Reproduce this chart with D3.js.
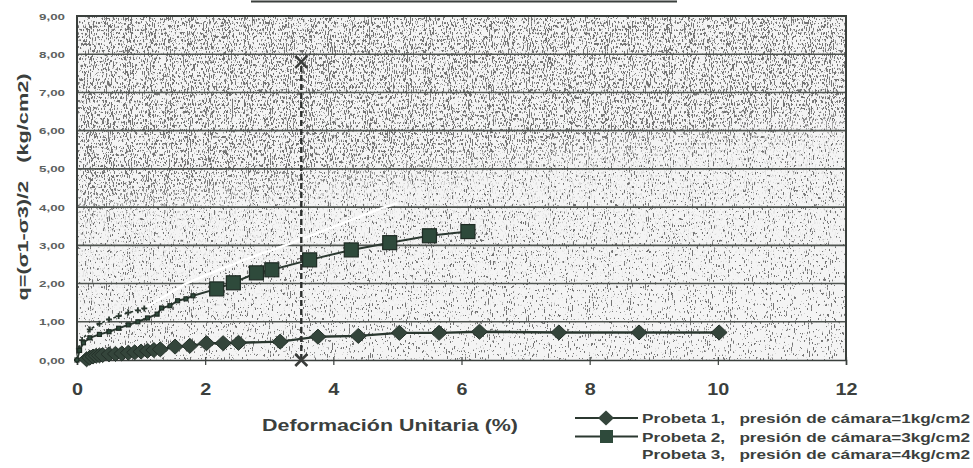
<!DOCTYPE html>
<html><head><meta charset="utf-8">
<script src="https://cdn.jsdelivr.net/npm/d3@7"></script>
<style>
html,body{margin:0;padding:0;background:#fff;}
svg{display:block;font-family:"Liberation Sans",Arial,sans-serif;}
text{white-space:pre;}
</style></head>
<body>
<svg id="chart" width="973" height="468"></svg>
<script>
// ---------- data ----------
const xTicks = [0, 2, 4, 6, 8, 10, 12];
const yTicks = [0, 1, 2, 3, 4, 5, 6, 7, 8, 9];

// Probeta 1 (1 kg/cm2)
const p1x = [0.15, 0.2, 0.25, 0.3, 0.35, 0.4, 0.5, 0.6, 0.7, 0.8, 0.9, 1.0, 1.1, 1.2, 1.3, 1.53, 1.76, 2.02, 2.28, 2.52, 3.17, 3.76, 4.39, 5.03, 5.65, 6.28, 7.52, 8.77, 10.02];
const p1y = [0.02, 0.06, 0.09, 0.11, 0.12, 0.13, 0.15, 0.16, 0.17, 0.19, 0.20, 0.22, 0.24, 0.26, 0.28, 0.35, 0.37, 0.44, 0.44, 0.45, 0.48, 0.61, 0.63, 0.71, 0.71, 0.74, 0.72, 0.72, 0.72];

// Probeta 2 (3 kg/cm2)
const p2x = [0, 0.04, 0.1, 0.2, 0.35, 0.5, 0.65, 0.8, 0.95, 1.1, 1.25, 1.32, 1.45, 1.57, 1.7, 1.81, 2.18, 2.44, 2.80, 3.04, 3.63, 4.28, 4.88, 5.50, 6.10];
const p2y = [0, 0.25, 0.45, 0.58, 0.67, 0.74, 0.83, 0.92, 1.00, 1.10, 1.20, 1.36, 1.42, 1.55, 1.60, 1.68, 1.86, 2.02, 2.28, 2.36, 2.62, 2.88, 3.07, 3.25, 3.36];

// Probeta 3 (4 kg/cm2)
const p3x = [0, 0.03, 0.08, 0.2, 0.35, 0.5, 0.65, 0.8, 0.95, 1.05, 1.3, 1.7, 2.2, 2.7, 3.25, 3.8, 4.3, 4.8, 5.0];
const p3y = [0, 0.30, 0.52, 0.80, 0.95, 1.06, 1.15, 1.24, 1.30, 1.35, 1.60, 2.00, 2.35, 2.68, 3.00, 3.35, 3.68, 4.00, 4.10];

// vertical reference line
const limX = [3.5, 3.5];
const limY = [0, 7.8];

const legendLabels = [
  "Probeta 1,   presión de cámara=1kg/cm2",
  "Probeta 2,   presión de cámara=3kg/cm2",
  "Probeta 3,   presión de cámara=4kg/cm2"
];
const xTitle = "Deformación Unitaria (%)";
const yTitle = "q=(σ1-σ3)/2   (kg/cm2)";

// ---------- layout ----------
const svg = d3.select("#chart");
const L = 77, R = 846, T = 16, B = 360;
const x = d3.scaleLinear().domain([0, 12]).range([L, R]);
const y = d3.scaleLinear().domain([0, 9]).range([B, T]);
const ink = "#2b3830";

const defs = svg.append("defs");
function speckFilter(id, seed, cut) {
  const f = defs.append("filter").attr("id", id)
    .attr("x", 0).attr("y", 0).attr("width", 1).attr("height", 1)
    .attr("color-interpolation-filters", "sRGB");
  f.append("feTurbulence").attr("type", "fractalNoise")
    .attr("baseFrequency", "0.95 0.28").attr("numOctaves", 2).attr("seed", seed);
  f.append("feColorMatrix").attr("type", "matrix")
    .attr("values", `0 0 0 0 0.45  0 0 0 0 0.45  0 0 0 0 0.45  16 0 0 0 ${-cut}`);
}
speckFilter("speckA", 3, 10.2);
speckFilter("speckB", 11, 9.3);
const g1 = defs.append("linearGradient").attr("id", "dens")
  .attr("x1", 0).attr("y1", 0).attr("x2", 0.25).attr("y2", 1);
[[0, 1], [0.48, 1], [0.58, 0.15], [1, 0.0]].forEach(([o, v]) =>
  g1.append("stop").attr("offset", o).attr("stop-color", "#fff").attr("stop-opacity", v));
defs.append("mask").attr("id", "dm")
  .append("rect").attr("x", L).attr("y", T).attr("width", R - L).attr("height", B - T)
  .attr("fill", "url(#dens)");

// plot background
svg.append("rect").attr("x", L).attr("y", T).attr("width", R - L).attr("height", B - T)
  .attr("fill", "#f4f4f4");
svg.append("rect").attr("x", L).attr("y", T).attr("width", R - L).attr("height", B - T)
  .attr("filter", "url(#speckA)");
svg.append("rect").attr("x", L).attr("y", T).attr("width", R - L).attr("height", B - T)
  .attr("filter", "url(#speckB)").attr("mask", "url(#dm)");

// gridlines
svg.append("g").selectAll("line").data(yTicks.filter(v => v > 0 && v < 9)).join("line")
  .attr("x1", L).attr("x2", R).attr("y1", d => y(d)).attr("y2", d => y(d))
  .attr("stroke", "#4e534f").attr("stroke-width", 1.6);

// frame
svg.append("path").attr("d", `M${L},${B} V${T} H${R} V${B}`)
  .attr("fill", "none").attr("stroke", "#3a3f3c").attr("stroke-width", 2);

// x axis
const xAxis = svg.append("g").attr("transform", `translate(0,${y(0)})`)
  .call(d3.axisBottom(x).tickValues(xTicks).tickSize(5).tickFormat(d3.format("d")));
xAxis.select(".domain").attr("stroke", "#3a3f3c").attr("stroke-width", 1.6);
xAxis.selectAll(".tick line").attr("stroke", "#3a3f3c").attr("stroke-width", 1.2).attr("y1", -3);
xAxis.selectAll(".tick text")
  .attr("y", 35).attr("dy", 0)
  .attr("font-size", 16.5).attr("font-weight", "bold").attr("fill", "#3b3f3d")
  .attr("font-family", "Liberation Sans, Arial, sans-serif")
  .attr("textLength", d => String(d).length * 11).attr("lengthAdjust", "spacingAndGlyphs");

// y axis
const yAxis = svg.append("g").attr("transform", `translate(${L},0)`)
  .call(d3.axisLeft(y).tickValues(yTicks).tickSize(0).tickPadding(12)
    .tickFormat(d => d3.format(".2f")(d).replace(".", ",")));
yAxis.select(".domain").remove();
yAxis.selectAll(".tick text")
  .attr("font-size", 9.5).attr("font-weight", "bold").attr("fill", "#5d625f")
  .attr("font-family", "Liberation Sans, Arial, sans-serif")
  .attr("textLength", 26).attr("lengthAdjust", "spacingAndGlyphs");

// axis titles
svg.append("text").attr("x", 390).attr("y", 431).attr("text-anchor", "middle")
  .attr("font-size", 16).attr("font-weight", "bold").attr("fill", "#3b3f3d")
  .attr("textLength", 256).attr("lengthAdjust", "spacingAndGlyphs")
  .text(xTitle);
svg.append("text").attr("transform", "translate(28,187) rotate(-90)")
  .attr("text-anchor", "middle")
  .attr("font-size", 15.5).attr("font-weight", "bold").attr("fill", "#3b3f3d")
  .attr("textLength", 227).attr("lengthAdjust", "spacingAndGlyphs")
  .text(yTitle);

// title underline (title itself cut off above the frame)
svg.append("line").attr("x1", 251).attr("x2", 677).attr("y1", 1.5).attr("y2", 1.5)
  .attr("stroke", "#3a3f3c").attr("stroke-width", 2);

// ---------- series ----------
const zip = (xs, ys) => xs.map((v, i) => [v, ys[i]]);
const s1 = zip(p1x, p1y), s2 = zip(p2x, p2y), s3 = zip(p3x, p3y);
const line = d3.line().x(d => x(d[0])).y(d => y(d[1]));
const px = d => [x(d[0]), y(d[1])];
const gap = (a, b) => Math.hypot(x(a[0]) - x(b[0]), y(a[1]) - y(b[1]));
const minGap = (arr, i) => Math.min(i > 0 ? gap(arr[i], arr[i - 1]) : 1e9,
                                    i < arr.length - 1 ? gap(arr[i], arr[i + 1]) : 1e9);

const diamond = "M0,-7.5 L8,0 L0,7.5 L-8,0Z";

// Probeta 3: white line; its closely-spaced leading run shows dark with small crosses
svg.append("path").datum(s3).attr("d", line).attr("fill", "none")
  .attr("stroke", "#ffffff").attr("stroke-width", 2.4);
let run = 1;
while (run < s3.length && gap(s3[run - 1], s3[run]) < 16) run++;
const s3dense = s3.slice(0, run);
svg.append("path").datum(s3dense).attr("d", line).attr("fill", "none")
  .attr("stroke", ink).attr("stroke-width", 1.6).attr("stroke-dasharray", "3,3");
svg.append("g").selectAll("path").data(s3dense).join("path")
  .attr("transform", d => `translate(${px(d)})`)
  .attr("d", "M-3,0 H3 M0,-3 V3").attr("stroke", ink).attr("stroke-width", 1.8);

// Probeta 2: squares
svg.append("path").datum(s2).attr("d", line).attr("fill", "none")
  .attr("stroke", ink).attr("stroke-width", 2);
svg.append("g").selectAll("rect").data(s2).join("rect")
  .each(function (d, i) {
    const s = minGap(s2, i) < 13 ? 4 : 14;
    d3.select(this).attr("x", x(d[0]) - s / 2).attr("y", y(d[1]) - s / 2)
      .attr("width", s).attr("height", s);
  })
  .attr("fill", "#2e4a3b").attr("stroke", "#1f2b24").attr("stroke-width", 1.2);

// Probeta 1: diamonds
svg.append("path").datum(s1).attr("d", line).attr("fill", "none")
  .attr("stroke", ink).attr("stroke-width", 2.4);
svg.append("g").selectAll("path").data(s1).join("path")
  .attr("transform", d => `translate(${px(d)})`).attr("d", diamond)
  .attr("fill", "#34453b").attr("stroke", "#243029").attr("stroke-width", 1);

// vertical limit line with X markers
const lim = zip(limX, limY);
svg.append("path").datum(lim).attr("d", line).attr("fill", "none")
  .attr("stroke", "#2c2f2d").attr("stroke-width", 2.4).attr("stroke-dasharray", "6,3");
svg.append("g").selectAll("path").data(lim).join("path")
  .attr("transform", d => `translate(${px(d)})`)
  .attr("d", "M-6,-6 L6,6 M-6,6 L6,-6").attr("stroke", "#3a3d3b").attr("stroke-width", 2.6);

// ---------- legend ----------
const lg = svg.append("g");
const rowsY = [418, 436.5, 454];
legendLabels.forEach((lab, i) => {
  const yy = rowsY[i];
  lg.append("line").attr("x1", 575).attr("x2", 638).attr("y1", yy).attr("y2", yy)
    .attr("stroke", i < 2 ? ink : "#ffffff").attr("stroke-width", 2);
  if (i === 0) {
    lg.append("path").attr("transform", `translate(606,${yy})`).attr("d", diamond)
      .attr("fill", "#34453b");
  } else if (i === 1) {
    lg.append("rect").attr("x", 600).attr("y", yy - 6.5).attr("width", 13).attr("height", 13)
      .attr("fill", "#2e4a3b");
  }
  lg.append("text").attr("x", 642).attr("y", yy + 5)
    .attr("font-size", 13.5).attr("font-weight", "bold").attr("fill", "#3b3f3d")
    .attr("textLength", 328).attr("lengthAdjust", "spacingAndGlyphs")
    .text(lab);
});
</script>
</body></html>
